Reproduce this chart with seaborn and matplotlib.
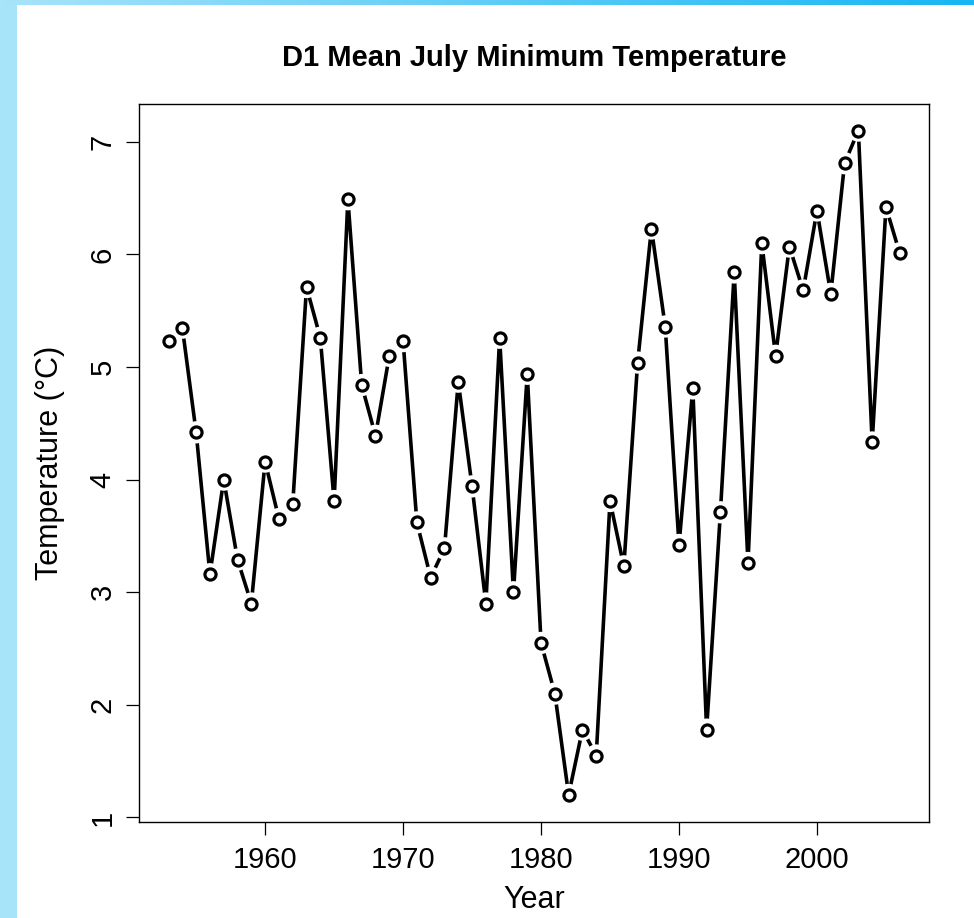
import matplotlib
matplotlib.use("Agg")
import matplotlib.pyplot as plt
import matplotlib.colors as mcolors
import numpy as np
import pandas as pd
import seaborn as sns

# values
years = list(range(1953, 2007))
temps = [5.23, 5.35, 4.42, 3.16, 4.00, 3.29, 2.90, 4.16, 3.65, 3.78,
         5.71, 5.26, 3.81, 6.49, 4.84, 4.39, 5.10, 5.23, 3.62, 3.13,
         3.39, 4.87, 3.94, 2.90, 5.26, 3.00, 4.94, 2.55, 2.10, 1.20,
         1.78, 1.55, 3.81, 3.23, 5.04, 6.23, 5.36, 3.42, 4.81, 1.78,
         3.71, 5.84, 3.26, 6.10, 5.10, 6.07, 5.68, 6.39, 5.65, 6.81,
         7.10, 4.33, 6.42, 6.01]
x_ticks = [1960, 1970, 1980, 1990, 2000]
y_ticks = [1, 2, 3, 4, 5, 6, 7]

df = pd.DataFrame({"Year": years, "Temp": temps})

sns.set_style("white")
plt.rcParams["font.family"] = ["Liberation Sans", "DejaVu Sans"]
plt.rcParams["text.color"] = "black"
plt.rcParams["axes.labelcolor"] = "black"

W, H = 974, 918
fig = plt.figure(figsize=(W / 100, H / 100), dpi=100)
fig.patch.set_facecolor("white")

# light blue frame of the slide
left = fig.add_axes([0, 0, 17 / W, 1])
left.set_facecolor("#a7e4fa")
left.set_xticks([]); left.set_yticks([])
for s in left.spines.values():
    s.set_visible(False)
top = fig.add_axes([0, 1 - 5 / H, 1, 5 / H])
cmap = mcolors.LinearSegmentedColormap.from_list("bar", ["#a7e4fa", "#18b6f4"])
top.imshow(np.linspace(0, 1, 256)[None, :], aspect="auto", cmap=cmap)
top.axis("off")

ax = fig.add_axes([139.3 / W, 1 - 821.5 / H, (929 - 139.3) / W, (821.5 - 104) / H])

sns.lineplot(data=df, x="Year", y="Temp", color="black", linewidth=2.6, ax=ax)
# white halos make the gaps around points (like R type="b")
sns.scatterplot(data=df, x="Year", y="Temp", s=16 ** 2, color="white",
                edgecolor="none", ax=ax, zorder=3)
sns.scatterplot(data=df, x="Year", y="Temp", s=8.0 ** 2, color="white",
                edgecolor="black", linewidth=2.3, ax=ax, zorder=4)

xpad = 0.04 * (max(years) - min(years))
ypad = 0.04 * (max(temps) - min(temps))
ax.set_xlim(min(years) - xpad, max(years) + xpad)
ax.set_ylim(min(temps) - ypad, max(temps) + ypad)
ax.set_xticks(x_ticks)
ax.set_yticks(y_ticks)

for s in ax.spines.values():
    s.set_visible(True)
    s.set_color("black")
    s.set_linewidth(1.0)

ax.tick_params(axis="both", direction="out", length=9.5, width=0.9,
               colors="black", labelsize=21, bottom=True, left=True)
ax.tick_params(axis="x", pad=8.5)
ax.tick_params(axis="y", pad=7)
for lbl in ax.get_yticklabels():
    lbl.set_rotation(90)
    lbl.set_va("center")

ax.set_xlabel("Year", fontsize=22, va="center")
ax.xaxis.set_label_coords(0.5, -0.11)
ax.set_ylabel("Temperature (°C)", fontsize=22, va="center")
ax.yaxis.set_label_coords(-0.113, 0.5)

ax.text(0.5, (821.5 - 66) / (821.5 - 104), "D1 Mean July Minimum Temperature",
        transform=ax.transAxes, ha="center", va="baseline",
        fontsize=21, fontweight="bold", color="black")

fig.savefig("out.png", dpi=100)
